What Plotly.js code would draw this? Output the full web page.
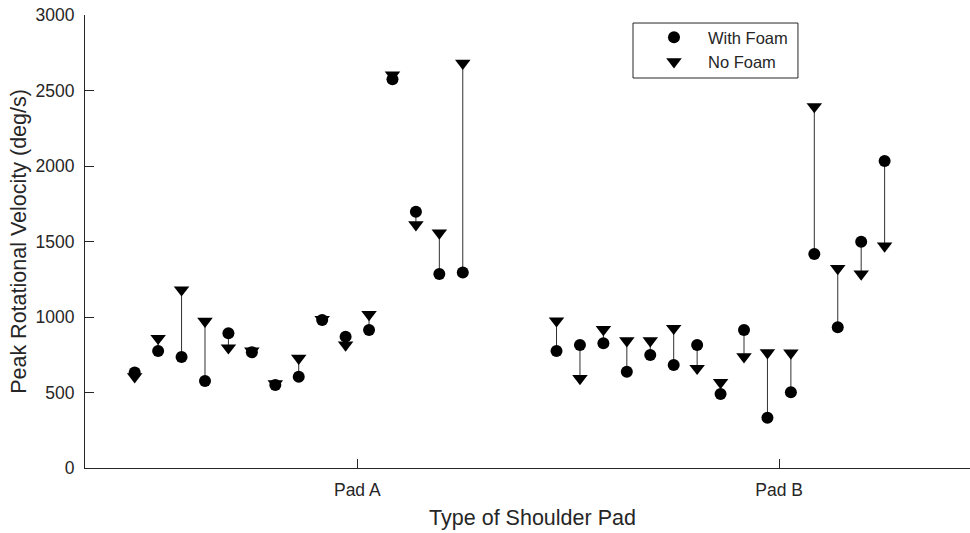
<!DOCTYPE html>
<html>
<head>
<meta charset="utf-8">
<script src="https://cdn.plot.ly/plotly-3.0.1.min.js"></script>
<style>
html, body { margin: 0; padding: 0; overflow: hidden; background: #fff; }
#chart { width: 980px; height: 533px; }
</style>
</head>
<body>
<div id="chart"></div>
<script>
// Data
const categories = ['Pad A', 'Pad B'];
const padA_withFoam = [632, 775, 735, 576, 892, 766, 550, 605, 980, 870, 914, 2574, 1697, 1285, 1294];
const padA_noFoam   = [605, 859, 1180, 972, 796, 775, 558, 727, 985, 815, 1017, 2603, 1611, 1557, 2681];
const padB_withFoam = [775, 815, 826, 638, 748, 682, 815, 490, 914, 333, 501, 1417, 932, 1499, 2033];
const padB_noFoam   = [975, 593, 918, 843, 843, 925, 660, 567, 737, 764, 762, 2394, 1322, 1285, 1471];
const yTicks = [0, 500, 1000, 1500, 2000, 2500, 3000];

// Trial index positions: Pad A trials 1..15, Pad B trials 19..33
const xA = padA_withFoam.map((_, i) => i + 1);
const xB = padB_withFoam.map((_, i) => i + 19);
const categoryPos = [(xA[0] + xA[xA.length - 1]) / 2 + 2.5, (xB[0] + xB[xB.length - 1]) / 2 + 2.5];

const xs = xA.concat(xB);
const withFoam = padA_withFoam.concat(padB_withFoam);
const noFoam = padA_noFoam.concat(padB_noFoam);

const lx = [], ly = [];
xs.forEach((x, i) => {
  lx.push(x, x, null);
  ly.push(withFoam[i], noFoam[i], null);
});

const ink = '#262626';
const fontFam = '"Liberation Sans", Arial, Helvetica, sans-serif';

const traces = [
  {
    x: lx, y: ly, mode: 'lines', type: 'scatter',
    line: {color: '#303030', width: 1},
    showlegend: false, hoverinfo: 'skip'
  },
  {
    x: xs, y: withFoam, mode: 'markers', type: 'scatter', name: 'With Foam',
    marker: {symbol: 'circle', size: 12, color: '#000'}
  },
  {
    x: xs, y: noFoam, mode: 'markers', type: 'scatter', name: 'No Foam',
    marker: {symbol: 'triangle-down', size: 13.5, color: '#000'}
  }
];

const layout = {
  width: 980, height: 533,
  margin: {l: 85, r: 0, t: 15, b: 65},
  paper_bgcolor: '#fff', plot_bgcolor: '#fff',
  font: {family: fontFam, color: ink},
  showlegend: true,
  xaxis: {
    range: [-1.12, 37.07],
    tickvals: categoryPos, ticktext: categories,
    ticks: 'inside', ticklen: 9, tickcolor: ink, tickwidth: 1,
    showline: true, linecolor: ink, linewidth: 1,
    showgrid: false, zeroline: false,
    tickfont: {size: 17.5, color: ink, family: fontFam},
    ticklabelstandoff: 6,
    title: {text: 'Type of Shoulder Pad', font: {size: 21.5, color: ink, family: fontFam}, standoff: 10}
  },
  yaxis: {
    range: [0, 3000],
    tickvals: yTicks,
    ticks: 'inside', ticklen: 9, tickcolor: ink, tickwidth: 1,
    showline: true, linecolor: ink, linewidth: 1,
    showgrid: false, zeroline: false,
    tickfont: {size: 17.5, color: ink, family: fontFam},
    ticklabelstandoff: 6,
    title: {text: 'Peak Rotational Velocity (deg/s)', font: {size: 21.5, color: ink, family: fontFam}, standoff: 3}
  },
  shapes: [{
    type: 'rect', xref: 'paper', yref: 'paper',
    x0: 0.6123, x1: 0.7966, y0: 0.8609, y1: 0.9823,
    line: {color: ink, width: 1}, fillcolor: '#fff', layer: 'above'
  }],
  legend: {
    x: 0.6201, y: 0.9890, xanchor: 'left', yanchor: 'top',
    bgcolor: 'rgba(0,0,0,0)', borderwidth: 0,
    font: {size: 16.5, color: ink, family: fontFam},
    itemwidth: 58
  }
};

Plotly.newPlot('chart', traces, layout, {displayModeBar: false, staticPlot: true});
</script>
</body>
</html>
